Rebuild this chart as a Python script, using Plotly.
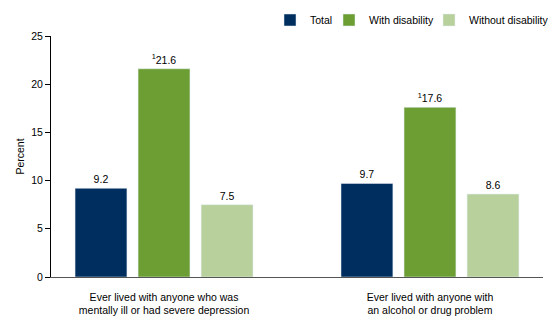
import plotly.graph_objects as go

categories = ["Ever lived with anyone who was<br>mentally ill or had severe depression",
              "Ever lived with anyone with<br>an alcohol or drug problem"]
series_names = ["Total", "With disability", "Without disability"]
total = [9.2, 9.7]
with_dis = [21.6, 17.6]
without_dis = [7.5, 8.6]
with_labels = ["<sup>1</sup>21.6", "<sup>1</sup>17.6"]
colors = ["#002F5F", "#6C9E33", "#B8D19C"]
legend_ids = ["legend", "legend2", "legend3"]
legend_text_x = [310, 369, 469]  # pixel where legend text starts

FS = 10.5
fig = go.Figure()
for name, vals, col, labels, lg in [
    (series_names[0], total, colors[0], [f"{v}" for v in total], legend_ids[0]),
    (series_names[1], with_dis, colors[1], with_labels, legend_ids[1]),
    (series_names[2], without_dis, colors[2], [f"{v}" for v in without_dis], legend_ids[2]),
]:
    fig.add_trace(go.Bar(
        x=categories, y=vals, name=name, marker_color=col,
        text=labels, textposition="outside", cliponaxis=False,
        textfont=dict(size=FS, color="black"), legend=lg,
    ))

L, R, T, B = 51, 17, 36, 44
W, H = 560, 321
pw, ph = W - L - R, H - T - B
leg_common = dict(orientation="h", xanchor="left", yanchor="middle",
                  font=dict(size=FS), bgcolor="rgba(0,0,0,0)")
legends = {}
for lg, tx in zip(legend_ids, legend_text_x):
    legends[lg] = dict(leg_common, x=(tx - 40 - L) / pw, y=(H - B - 20) / ph)

fig.update_layout(
    width=W, height=H,
    margin=dict(l=L, r=R, t=T, b=B, autoexpand=False),
    plot_bgcolor="white", paper_bgcolor="white",
    font=dict(family="Liberation Sans, Arial", size=FS, color="black"),
    barmode="group", bargap=0.289, bargroupgap=0.177,
    showlegend=True,
    xaxis=dict(type="category", range=[-0.425, 1.425], showline=True,
               linecolor="#555555", linewidth=1, ticks="", showgrid=False,
               tickfont=dict(size=FS), ticklabelstandoff=10),
    yaxis=dict(range=[0, 25], dtick=5, showline=True, linecolor="black",
               linewidth=1, ticks="outside", ticklen=5, tickcolor="black",
               showgrid=False, zeroline=False, tickfont=dict(size=FS),
               title=dict(text="Percent", font=dict(size=FS), standoff=4)),
    **legends,
)

fig.write_html("out.html")
